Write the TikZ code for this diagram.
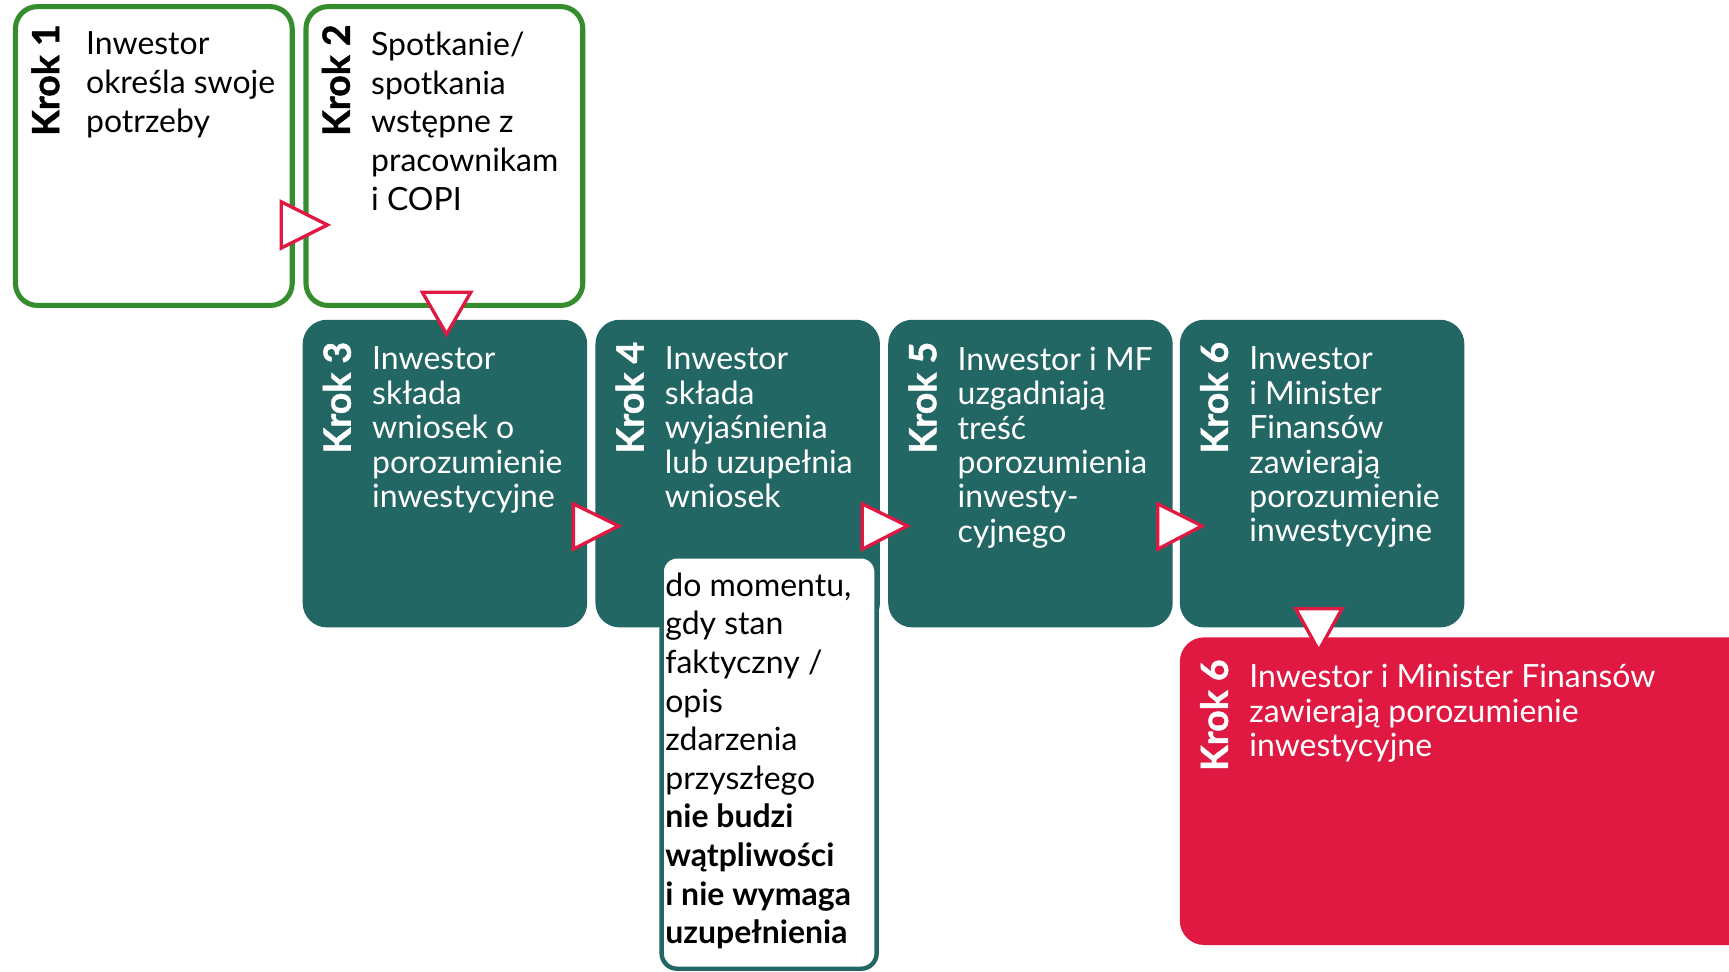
\documentclass[tikz,border=0pt]{standalone}
\usepackage{fontspec}
\setmainfont{Lato}
\newfontfamily\krokfont{Lato}[BoldFeatures={FakeBold=1.2}]
\usetikzlibrary{positioning}
\definecolor{krokgreen}{HTML}{358D2E}
\definecolor{krokteal}{HTML}{236764}
\definecolor{krokred}{HTML}{E01942}

\begin{document}
\begin{tikzpicture}[x=0.5pt,y=-0.5pt]
   \tikzstyle{greenbox}=[draw=krokgreen, line width=2.3pt, fill=white, rounded corners=10pt, minimum width=125.5pt, minimum height=135.5pt, inner sep=0pt]
   \tikzstyle{tealbox}=[fill=krokteal, rounded corners=11pt, minimum width=129pt, minimum height=139.5pt, inner sep=0pt]
   \tikzstyle{redbox}=[fill=krokred, rounded corners=11pt, minimum width=285pt, minimum height=139.5pt, inner sep=0pt]
   \tikzstyle{notebox}=[draw=krokteal, line width=2pt, fill=white, rounded corners=7pt, minimum width=97.5pt, minimum height=187pt, inner sep=0pt]
   \tikzstyle{kroklabel}=[rotate=90, anchor=base east, inner sep=0pt, font=\fontsize{17}{20}\krokfont\bfseries]
   \tikzstyle{bodytext}=[inner sep=0pt, align=left, font=\fontsize{14.5}{17.5}\selectfont]
   \tikzstyle{tealtext}=[inner sep=0pt, align=left, text=white, font=\fontsize{14.5}{15.6}\selectfont]
   \tikzstyle{pointer}=[draw=krokred, fill=white, line width=1.5pt, line join=miter]

   \useasboundingbox (0,0) rectangle (1568,881);
   \clip (0,0) rectangle (1568,881);

\node[greenbox] (k1) at (139.5,141.5) {};
\node[greenbox] (k2) at (403,141.5) {};
\node[tealbox] (k3) at (403.5,429.5) {};
\node[tealbox] (k4) at (669,429.5) {};
\node[tealbox] (k5) at (934.5,429.5) {};
\node[tealbox] (k6) at (1199,429.5) {};
\node[redbox] (k7) at (1355,717.5) {};
\node[notebox] (n4) at (697.5,691.5) {};

\node[kroklabel] (l1) at ([xshift=21pt,yshift=-9pt]k1.north west) {Krok 1};
\node[kroklabel] (l2) at ([xshift=21pt,yshift=-9pt]k2.north west) {Krok 2};
\node[kroklabel, text=white] (l3) at ([xshift=22pt,yshift=-10pt]k3.north west) {Krok 3};
\node[kroklabel, text=white] (l4) at ([xshift=22pt,yshift=-10pt]k4.north west) {Krok 4};
\node[kroklabel, text=white] (l5) at ([xshift=22pt,yshift=-10pt]k5.north west) {Krok 5};
\node[kroklabel, text=white] (l6) at ([xshift=22pt,yshift=-10pt]k6.north west) {Krok 6};
\node[kroklabel, text=white] (l7) at ([xshift=22pt,yshift=-10pt]k7.north west) {Krok 6};

\node[bodytext, below right=12.5pt and 33pt of k1.north west] (t1) {Inwestor\\określa swoje\\potrzeby};
\node[bodytext, below right=12.5pt and 30.5pt of k2.north west] (t2) {Spotkanie/\\spotkania\\wstępne z\\pracownikam\\i COPI};
\node[tealtext, below right=12.3pt and 31.5pt of k3.north west] (t3) {Inwestor\\składa\\wniosek o\\porozumienie\\inwestycyjne};
\node[tealtext, below right=12.3pt and 31.5pt of k4.north west] (t4) {Inwestor\\składa\\wyjaśnienia\\lub uzupełnia\\wniosek};
\node[tealtext, below right=12.3pt and 31.5pt of k5.north west] (t5) {Inwestor i MF\\uzgadniają\\treść\\porozumienia\\inwesty-\\cyjnego};
\node[tealtext, below right=12.3pt and 31.5pt of k6.north west] (t6) {Inwestor\\i Minister\\Finansów\\zawierają\\porozumienie\\inwestycyjne};
\node[tealtext, below right=12.3pt and 31.5pt of k7.north west] (t7) {Inwestor i Minister Finansów\\zawierają porozumienie\\inwestycyjne};
\node[bodytext, below right=8.3pt and 2.5pt of n4.north west] (tn) {do momentu,\\gdy stan\\faktyczny /\\opis\\zdarzenia\\przyszłego\\\textbf{nie budzi}\\\textbf{wątpliwości}\\\textbf{i nie wymaga}\\\textbf{uzupełnienia}};

\draw[pointer] (255,183) -- (297,204) -- (255,225) -- cycle;
\draw[pointer] (383,265) -- (427,265) -- (405,303) -- cycle;
\draw[pointer] (520,457) -- (561,477) -- (520,498) -- cycle;
\draw[pointer] (782,457) -- (823,477) -- (782,498) -- cycle;
\draw[pointer] (1050,457) -- (1090,477) -- (1050,498) -- cycle;
\draw[pointer] (1175,552) -- (1217,552) -- (1196,590) -- cycle;

\end{tikzpicture}
\end{document}
